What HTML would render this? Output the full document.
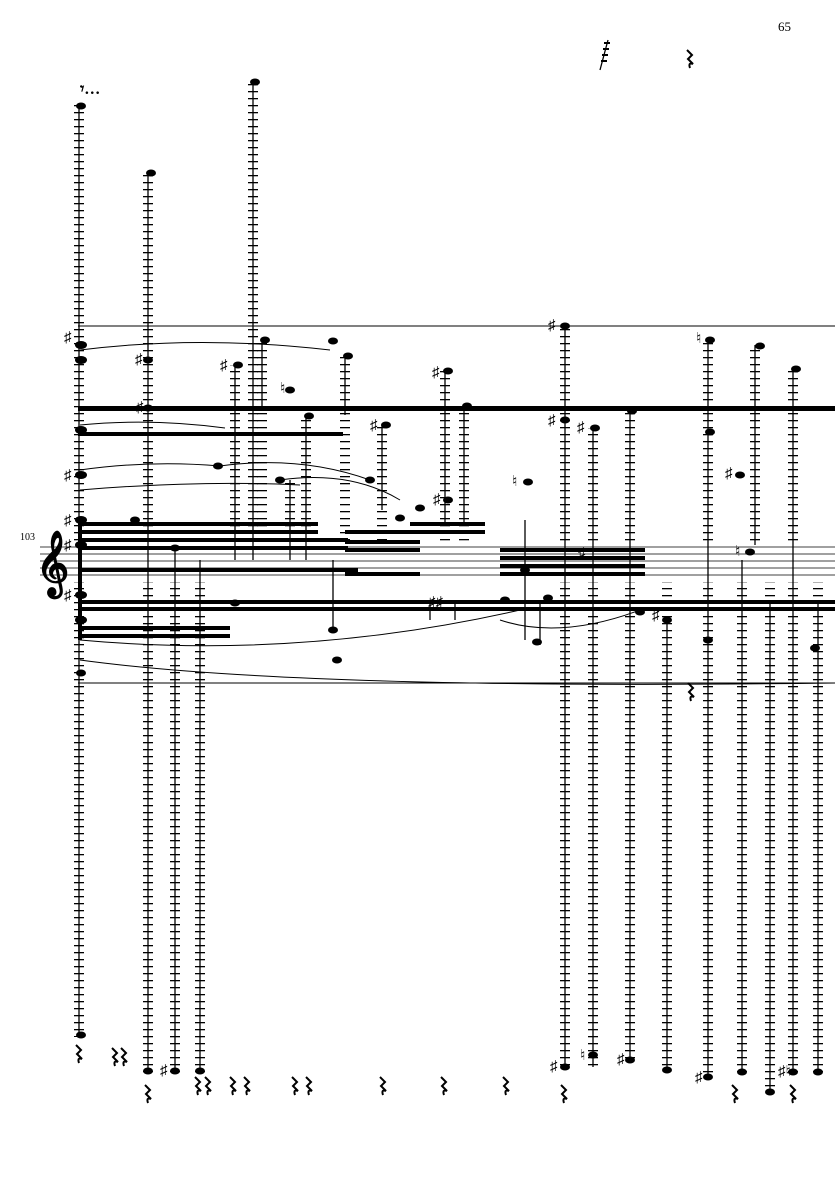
<!DOCTYPE html>
<html><head><meta charset="utf-8"><style>
html,body{margin:0;padding:0;background:#fff;}
svg{display:block}
text{font-family:"Liberation Serif",serif}
</style></head><body>
<svg width="835" height="1181" viewBox="0 0 835 1181" xmlns="http://www.w3.org/2000/svg">
<defs>
<pattern id="L" patternUnits="userSpaceOnUse" x="0" y="0" width="20" height="7">
<rect x="0" y="0" width="20" height="1.3" fill="#000"/>
</pattern>
<path id="R" d="M0 0 L5 5 L1 9 L6 14 Q1 12 3 18" fill="none" stroke="#000" stroke-width="2"/>
</defs>
<text x="778" y="31" font-size="13">65</text>
<text x="20" y="540" font-size="10">103</text>
<g stroke="#000" stroke-width="0.8">
<line x1="40" y1="547" x2="835" y2="547"/><line x1="40" y1="554" x2="835" y2="554"/>
<line x1="40" y1="561" x2="835" y2="561"/><line x1="40" y1="568" x2="835" y2="568"/>
<line x1="40" y1="575" x2="835" y2="575"/>
</g>
<text x="36" y="582" font-size="56" font-family="DejaVu Sans" font-weight="bold">𝄞</text>
<g fill="url(#L)">
<rect x="74" y="105" width="10" height="440"/><rect x="74" y="582" width="10" height="455"/>
<rect x="143" y="172" width="10" height="373"/><rect x="143" y="582" width="10" height="490"/>
<rect x="170" y="582" width="10" height="490"/>
<rect x="195" y="582" width="10" height="490"/>
<rect x="248" y="82" width="10" height="463"/>
<rect x="257" y="340" width="10" height="200"/>
<rect x="230" y="365" width="10" height="180"/>
<rect x="285" y="480" width="10" height="65"/>
<rect x="301" y="415" width="10" height="130"/>
<rect x="340" y="355" width="10" height="190"/>
<rect x="377" y="425" width="10" height="120"/>
<rect x="440" y="370" width="10" height="175"/>
<rect x="459" y="405" width="10" height="140"/>
<rect x="560" y="325" width="10" height="220"/><rect x="560" y="582" width="10" height="485"/>
<rect x="588" y="428" width="10" height="117"/><rect x="588" y="582" width="10" height="485"/>
<rect x="625" y="410" width="10" height="135"/><rect x="625" y="582" width="10" height="478"/>
<rect x="662" y="582" width="10" height="488"/>
<rect x="703" y="340" width="10" height="205"/><rect x="703" y="582" width="10" height="495"/>
<rect x="737" y="582" width="10" height="490"/>
<rect x="750" y="345" width="10" height="200"/>
<rect x="765" y="582" width="10" height="510"/>
<rect x="788" y="368" width="10" height="177"/><rect x="788" y="582" width="10" height="490"/>
<rect x="813" y="582" width="10" height="490"/>
</g>
<g stroke="#000" stroke-width="1.3">
<line x1="79" y1="105" x2="79" y2="1035"/>
<line x1="148" y1="172" x2="148" y2="1070"/>
<line x1="175" y1="545" x2="175" y2="1070"/>
<line x1="200" y1="560" x2="200" y2="1070"/>
<line x1="253" y1="82" x2="253" y2="560"/>
<line x1="262" y1="340" x2="262" y2="410"/>
<line x1="235" y1="365" x2="235" y2="560"/>
<line x1="290" y1="480" x2="290" y2="560"/>
<line x1="306" y1="415" x2="306" y2="560"/>
<line x1="345" y1="355" x2="345" y2="415"/>
<line x1="382" y1="425" x2="382" y2="510"/>
<line x1="445" y1="370" x2="445" y2="525"/>
<line x1="464" y1="405" x2="464" y2="525"/>
<line x1="565" y1="325" x2="565" y2="1067"/>
<line x1="593" y1="428" x2="593" y2="1067"/>
<line x1="630" y1="410" x2="630" y2="1060"/>
<line x1="667" y1="620" x2="667" y2="1070"/>
<line x1="708" y1="340" x2="708" y2="1077"/>
<line x1="742" y1="560" x2="742" y2="1072"/>
<line x1="755" y1="345" x2="755" y2="545"/>
<line x1="770" y1="600" x2="770" y2="1092"/>
<line x1="793" y1="368" x2="793" y2="1072"/>
<line x1="818" y1="600" x2="818" y2="1072"/>
<line x1="333" y1="560" x2="333" y2="630"/>
<line x1="525" y1="520" x2="525" y2="640"/>
<line x1="540" y1="600" x2="540" y2="645"/>
<line x1="430" y1="600" x2="430" y2="620"/>
<line x1="455" y1="600" x2="455" y2="620"/>
</g>
<g fill="#000">
<rect x="78" y="406" width="757" height="5"/>
<rect x="78" y="432" width="265" height="4"/>
<rect x="78" y="522" width="240" height="4"/>
<rect x="78" y="530" width="240" height="4"/>
<rect x="78" y="538" width="270" height="4"/>
<rect x="78" y="546" width="270" height="4"/>
<rect x="78" y="568" width="280" height="4"/>
<rect x="78" y="600" width="757" height="4"/>
<rect x="78" y="607" width="757" height="4"/>
<rect x="78" y="626" width="152" height="4"/>
<rect x="78" y="634" width="152" height="4"/>
<rect x="345" y="530" width="75" height="4"/>
<rect x="345" y="540" width="75" height="4"/>
<rect x="345" y="548" width="75" height="4"/>
<rect x="345" y="572" width="75" height="4"/>
<rect x="410" y="522" width="75" height="4"/>
<rect x="410" y="530" width="75" height="4"/>
<rect x="500" y="548" width="145" height="4"/>
<rect x="500" y="556" width="145" height="4"/>
<rect x="500" y="564" width="145" height="4"/>
<rect x="500" y="572" width="145" height="4"/>
<rect x="78" y="520" width="4" height="120"/>
</g>
<g stroke="#000" stroke-width="1" fill="none">
<line x1="78" y1="326" x2="835" y2="326"/>
<line x1="78" y1="683" x2="835" y2="683"/>
<path d="M80 350 Q200 335 330 350"/>
<path d="M80 425 Q150 418 225 428"/>
<path d="M80 470 Q150 460 220 466"/>
<path d="M80 490 Q200 480 300 485"/>
<path d="M220 466 Q300 455 370 480"/>
<path d="M280 480 Q350 470 400 500"/>
<path d="M80 640 Q300 660 520 610"/>
<path d="M500 620 Q560 640 640 610"/>
<path d="M80 660 Q300 690 835 683"/>
</g>
<g fill="#000">
<ellipse cx="81" cy="106" rx="5" ry="3.5"/><ellipse cx="81" cy="1035" rx="5" ry="3.5"/>
<ellipse cx="151" cy="173" rx="5" ry="3.5"/><ellipse cx="255" cy="82" rx="5" ry="3.5"/>
<ellipse cx="265" cy="340" rx="5" ry="3.5"/><ellipse cx="238" cy="365" rx="5" ry="3.5"/>
<ellipse cx="333" cy="341" rx="5" ry="3.5"/><ellipse cx="348" cy="356" rx="5" ry="3.5"/>
<ellipse cx="148" cy="360" rx="5" ry="3.5"/><ellipse cx="148" cy="408" rx="5" ry="3.5"/>
<ellipse cx="309" cy="416" rx="5" ry="3.5"/><ellipse cx="290" cy="390" rx="5" ry="3.5"/>
<ellipse cx="386" cy="425" rx="5" ry="3.5"/><ellipse cx="448" cy="371" rx="5" ry="3.5"/>
<ellipse cx="467" cy="406" rx="5" ry="3.5"/><ellipse cx="218" cy="466" rx="5" ry="3.5"/>
<ellipse cx="280" cy="480" rx="5" ry="3.5"/><ellipse cx="370" cy="480" rx="5" ry="3.5"/>
<ellipse cx="135" cy="520" rx="5" ry="3.5"/><ellipse cx="175" cy="548" rx="5" ry="3.5"/>
<ellipse cx="235" cy="603" rx="5" ry="3.5"/><ellipse cx="333" cy="630" rx="5" ry="3.5"/>
<ellipse cx="528" cy="482" rx="5" ry="3.5"/><ellipse cx="448" cy="500" rx="5" ry="3.5"/>
<ellipse cx="400" cy="518" rx="5" ry="3.5"/><ellipse cx="420" cy="508" rx="5" ry="3.5"/>
<ellipse cx="565" cy="326" rx="5" ry="3.5"/><ellipse cx="595" cy="428" rx="5" ry="3.5"/>
<ellipse cx="565" cy="420" rx="5" ry="3.5"/><ellipse cx="632" cy="411" rx="5" ry="3.5"/>
<ellipse cx="710" cy="340" rx="5" ry="3.5"/><ellipse cx="710" cy="432" rx="5" ry="3.5"/>
<ellipse cx="760" cy="346" rx="5" ry="3.5"/><ellipse cx="796" cy="369" rx="5" ry="3.5"/>
<ellipse cx="740" cy="475" rx="5" ry="3.5"/><ellipse cx="750" cy="552" rx="5" ry="3.5"/>
<ellipse cx="525" cy="570" rx="5" ry="3.5"/><ellipse cx="505" cy="600" rx="5" ry="3.5"/>
<ellipse cx="548" cy="598" rx="5" ry="3.5"/><ellipse cx="640" cy="612" rx="5" ry="3.5"/>
<ellipse cx="667" cy="620" rx="5" ry="3.5"/><ellipse cx="708" cy="640" rx="5" ry="3.5"/>
<ellipse cx="337" cy="660" rx="5" ry="3.5"/><ellipse cx="537" cy="642" rx="5" ry="3.5"/>
<ellipse cx="815" cy="648" rx="5" ry="3.5"/><ellipse cx="81" cy="673" rx="5" ry="3.5"/>
<ellipse cx="81" cy="345" rx="6" ry="4"/><ellipse cx="81" cy="360" rx="6" ry="4"/>
<ellipse cx="81" cy="430" rx="6" ry="4"/><ellipse cx="81" cy="475" rx="6" ry="4"/>
<ellipse cx="81" cy="520" rx="6" ry="4"/><ellipse cx="81" cy="545" rx="6" ry="4"/>
<ellipse cx="81" cy="595" rx="6" ry="4"/><ellipse cx="81" cy="620" rx="6" ry="4"/>
<ellipse cx="148" cy="1071" rx="5" ry="3.5"/><ellipse cx="175" cy="1071" rx="5" ry="3.5"/>
<ellipse cx="200" cy="1071" rx="5" ry="3.5"/><ellipse cx="565" cy="1067" rx="5" ry="3.5"/>
<ellipse cx="593" cy="1055" rx="5" ry="3.5"/><ellipse cx="630" cy="1060" rx="5" ry="3.5"/>
<ellipse cx="667" cy="1070" rx="5" ry="3.5"/><ellipse cx="708" cy="1077" rx="5" ry="3.5"/>
<ellipse cx="742" cy="1072" rx="5" ry="3.5"/><ellipse cx="770" cy="1092" rx="5" ry="3.5"/>
<ellipse cx="793" cy="1072" rx="5" ry="3.5"/><ellipse cx="818" cy="1072" rx="5" ry="3.5"/>
</g>
<g font-family="DejaVu Sans" font-size="15" fill="#000">
<text x="64" y="342">♯</text><text x="135" y="364">♯</text><text x="136" y="412">♯</text>
<text x="220" y="370">♯</text><text x="280" y="393">♮</text><text x="432" y="377">♯</text>
<text x="370" y="430">♯</text><text x="548" y="330">♯</text><text x="577" y="432">♯</text>
<text x="548" y="425">♯</text><text x="696" y="343">♮</text><text x="725" y="478">♯</text>
<text x="512" y="486">♮</text><text x="735" y="556">♮</text><text x="433" y="504">♯</text>
<text x="64" y="480">♯</text><text x="64" y="525">♯</text><text x="64" y="550">♯</text>
<text x="64" y="600">♯</text><text x="428" y="607">♯♯</text><text x="578" y="558">♯</text>
<text x="652" y="620">♯</text><text x="550" y="1071">♯</text><text x="580" y="1060">♮</text>
<text x="617" y="1064">♯</text><text x="160" y="1075">♯</text><text x="695" y="1082">♯</text>
<text x="778" y="1076">♯♮</text>
<text x="80" y="94" font-size="16" font-weight="bold">𝄾…</text>
</g>
<g>
<use href="#R" x="76" y="1045"/>
<use href="#R" x="112" y="1048"/><use href="#R" x="121" y="1048"/>
<use href="#R" x="145" y="1085"/>
<use href="#R" x="195" y="1077"/><use href="#R" x="205" y="1077"/>
<use href="#R" x="230" y="1077"/><use href="#R" x="244" y="1077"/>
<use href="#R" x="292" y="1077"/><use href="#R" x="306" y="1077"/>
<use href="#R" x="380" y="1077"/><use href="#R" x="441" y="1077"/>
<use href="#R" x="503" y="1077"/><use href="#R" x="561" y="1085"/>
<use href="#R" x="732" y="1085"/><use href="#R" x="790" y="1085"/>
<use href="#R" x="687" y="50"/><use href="#R" x="688" y="683"/>
</g>
<line x1="600" y1="70" x2="608" y2="40" stroke="#000" stroke-width="1.3"/>
<g fill="#000"><rect x="604" y="42" width="6" height="2"/><rect x="603" y="48" width="6" height="2"/><rect x="602" y="54" width="6" height="2"/><rect x="601" y="60" width="6" height="2"/></g>
</svg>
</body></html>
